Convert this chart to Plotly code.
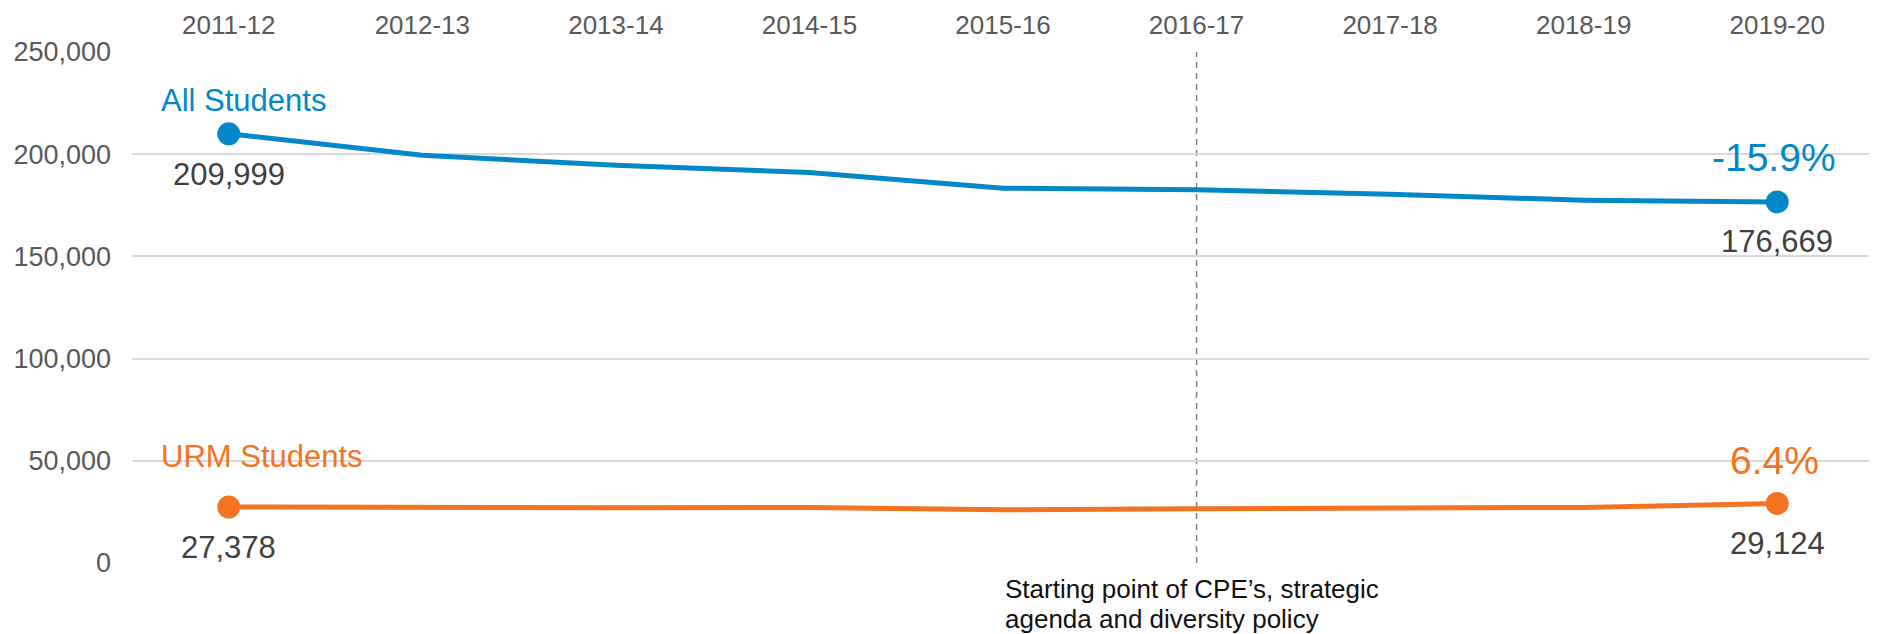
import plotly.graph_objects as go

years = ["2011-12", "2012-13", "2013-14", "2014-15", "2015-16",
         "2016-17", "2017-18", "2018-19", "2019-20"]
all_students = [209999, 199500, 194600, 191000, 183400, 182600, 180400, 177500, 176669]
urm_students = [27378, 26900, 27000, 27200, 26000, 26600, 26900, 27200, 29124]
all_change = "-15.9%"
urm_change = "6.4%"
y_ticks = [0, 50000, 100000, 150000, 200000, 250000]
policy_year = "2016-17"
policy_lines = ["Starting point of CPE’s, strategic", "agenda and diversity policy"]

BLUE = "#0288C9"
ORANGE = "#F47321"
FONT = "Liberation Sans, Arial, sans-serif"

n = len(years)
sizes = [23] + [0] * (n - 2) + [23]

fig = go.Figure()
fig.add_trace(go.Scatter(x=years, y=all_students, mode="lines+markers",
                         line=dict(color=BLUE, width=5),
                         marker=dict(color=BLUE, size=sizes, opacity=1, line=dict(width=0)),
                         hoverinfo="skip", showlegend=False))
fig.add_trace(go.Scatter(x=years, y=urm_students, mode="lines+markers",
                         line=dict(color=ORANGE, width=5),
                         marker=dict(color=ORANGE, size=sizes, opacity=1, line=dict(width=0)),
                         hoverinfo="skip", showlegend=False))

# dashed policy marker line
pidx = years.index(policy_year)
fig.add_shape(type="line", xref="x", yref="y", x0=pidx, x1=pidx, y0=0, y1=y_ticks[-1],
              line=dict(color="#808080", width=1.5, dash="6px,5px"), layer="below")

def ann(x, y, text, color, size, xshift=0, yshift=0, xanchor="center"):
    fig.add_annotation(x=x, y=y, xref="x", yref="y", text=text, showarrow=False,
                       font=dict(family=FONT, size=size, color=color),
                       xanchor=xanchor, yanchor="middle", xshift=xshift, yshift=yshift)

ann(years[0], all_students[0], "All Students", BLUE, 31, xshift=-70, yshift=33, xanchor="left")
ann(years[0], all_students[0], f"{all_students[0]:,}", "#404040", 31, yshift=-41)
ann(years[-1], all_students[-1], all_change, BLUE, 39, xshift=-3, yshift=44)
ann(years[-1], all_students[-1], f"{all_students[-1]:,}", "#404040", 31, yshift=-40)

ann(years[0], urm_students[0], "URM Students", ORANGE, 31, xshift=-70, yshift=51, xanchor="left")
ann(years[0], urm_students[0], f"{urm_students[0]:,}", "#404040", 31, yshift=-40)
ann(years[-1], urm_students[-1], urm_change, ORANGE, 39, xshift=-3, yshift=43)
ann(years[-1], urm_students[-1], f"{urm_students[-1]:,}", "#404040", 31, yshift=-40)

for i, line in enumerate(policy_lines):
    fig.add_annotation(x=0.5, y=-0.051 - i * 0.0587, xref="paper", yref="paper",
                       text=line, showarrow=False, xanchor="left", yanchor="middle",
                       font=dict(family=FONT, size=26, color="#111111"))

fig.update_xaxes(type="category", categoryorder="array", categoryarray=years,
                 side="top", range=[-0.5, n - 0.5], showgrid=False, zeroline=False,
                 showline=False, ticks="", ticklabelstandoff=12, automargin=False,
                 tickfont=dict(family=FONT, size=26, color="#595959"))
fig.update_yaxes(range=[0, y_ticks[-1]], tickvals=y_ticks,
                 ticktext=[f"{v:,}" for v in y_ticks],
                 showgrid=True, gridcolor="#D9D9D9", gridwidth=1.5,
                 zeroline=False, showline=False, ticks="", ticklabelstandoff=20,
                 automargin=False,
                 tickfont=dict(family=FONT, size=27, color="#595959"))

# page body has an 8px default margin, so the figure is offset by 8px
fig.update_layout(width=1869, height=626, margin=dict(l=124, r=3, t=44, b=71),
                  paper_bgcolor="white", plot_bgcolor="white",
                  font=dict(family=FONT))

fig.write_html("out.html")
